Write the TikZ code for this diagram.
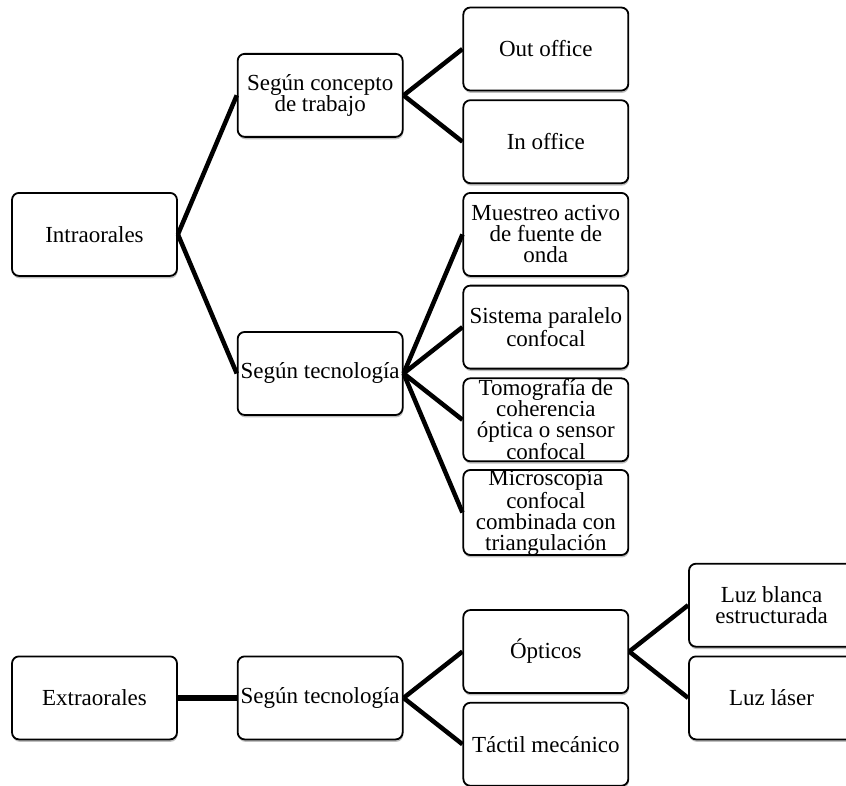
\documentclass[tikz,border=0pt]{standalone}
\usepackage{fontspec}
\setmainfont{Liberation Serif}
\usetikzlibrary{shadows}
\begin{document}
\begin{tikzpicture}[
    box/.style={draw, line width=1.8pt, rounded corners=7pt, fill=white,
      minimum width=165pt, minimum height=83pt, inner xsep=2pt, inner ysep=0pt,
      align=center, font=\fontsize{23}{21}\selectfont,
      drop shadow={shadow xshift=0.6pt, shadow yshift=-2.4pt, fill=black, opacity=0.25}},
    link/.style={line width=4.5pt},
    thicklink/.style={line width=6.5pt}]
    \def\x{225.67pt}
    \def\y{-46.35pt}
    \useasboundingbox (-94.5pt, 49pt) rectangle (751.5pt, -736pt);
    \node [box] (A4_0) at (0*\x, 4*\y) {Intraorales};
    \node [box] (A1_1) at (1*\x, 1*\y) {Según concepto\\de trabajo};
    \node [box] (A7_1) at (1*\x, 7*\y) {Según tecnología};
    \node [box] (A0_2) at (2*\x, 0*\y) {Out office};
    \node [box] (A2_2) at (2*\x, 2*\y) {In office};
    \node [box] (A4_2) at (2*\x, 4*\y) {Muestreo activo\\de fuente de\\onda};
    \node [box] (A6_2) at (2*\x, 6*\y) {Sistema paralelo\\confocal};
    \node [box] (A8_2) at (2*\x, 8*\y) {Tomografía de\\coherencia\\óptica o sensor\\confocal};
    \node [box] (A10_2) at (2*\x, 10*\y) {Microscopía\\confocal\\combinada con\\triangulación};
    \node [box] (A14_0) at (0*\x, 14*\y) {Extraorales};
    \node [box] (A14_1) at (1*\x, 14*\y) {Según tecnología};
    \node [box] (A13_2) at (2*\x, 13*\y) {Ópticos};
    \node [box] (A15_2) at (2*\x, 15*\y) {Táctil mecánico};
    \node [box] (A12_3) at (3*\x, 12*\y) {Luz blanca\\estructurada};
    \node [box] (A14_3) at (3*\x, 14*\y) {Luz láser};
    \path (A4_0.east) edge [link] (A1_1.west);
    \path (A4_0.east) edge [link] (A7_1.west);
    \path (A1_1.east) edge [link] (A0_2.west);
    \path (A1_1.east) edge [link] (A2_2.west);
    \path (A7_1.east) edge [link] (A4_2.west);
    \path (A7_1.east) edge [link] (A6_2.west);
    \path (A7_1.east) edge [link] (A8_2.west);
    \path (A7_1.east) edge [link] (A10_2.west);
    \path (A14_0.east) edge [thicklink] (A14_1.west);
    \path (A14_1.east) edge [link] (A13_2.west);
    \path (A14_1.east) edge [link] (A15_2.west);
    \path (A13_2.east) edge [link] (A12_3.west);
    \path (A13_2.east) edge [link] (A14_3.west);
  \end{tikzpicture}
\end{document}
